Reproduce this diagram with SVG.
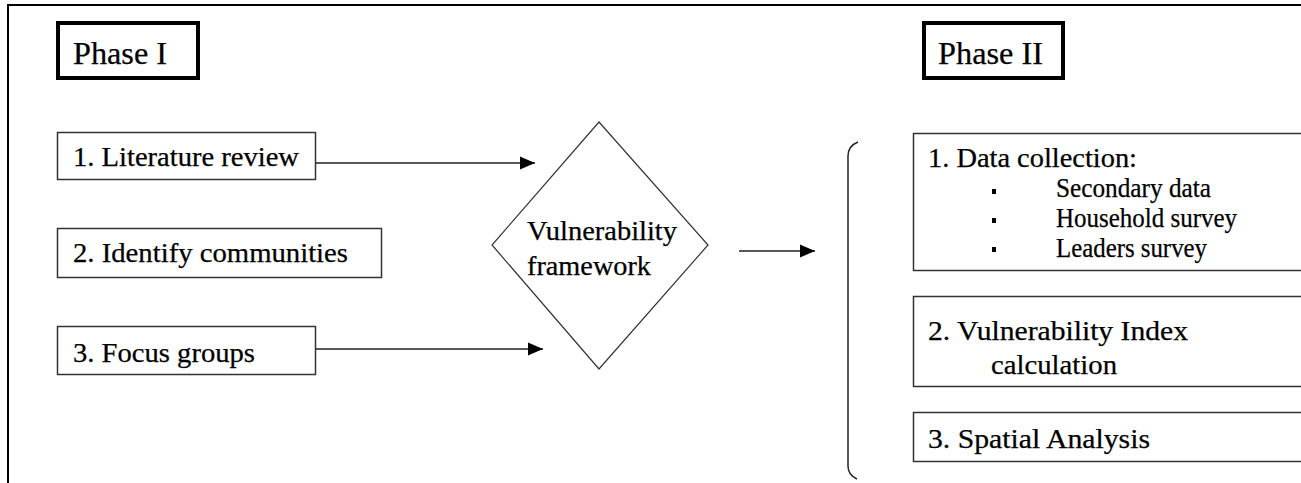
<svg xmlns="http://www.w3.org/2000/svg" width="1301" height="483" viewBox="0 0 1301 483">
<style>
  text { font-family: "Liberation Serif", "Times New Roman", "DejaVu Serif", serif; fill: #000; stroke: #000; stroke-width: 0.25; }
  .t { font-size: 27px; }
  .ph { font-size: 32px; }
  .box { fill: #fff; stroke: #333; stroke-width: 1.5; }
  .pbox { fill: #fff; stroke: #000; stroke-width: 4; }
  .conn { stroke: #222; stroke-width: 1.5; fill: none; }
</style>
<defs>
  <marker id="ah" markerWidth="16" markerHeight="14" refX="15" refY="7" orient="auto" markerUnits="userSpaceOnUse">
    <path d="M0,0.5 L15,7 L0,13.5 Z" fill="#000"/>
  </marker>
</defs>
<rect width="1301" height="483" fill="#fff"/>
<rect x="8" y="5" width="1400" height="600" fill="none" stroke="#000" stroke-width="2"/>

<g id="phase1">
  <rect class="pbox" x="58" y="23" width="140" height="55"/>
  <text class="ph" x="73" y="64" textLength="94" lengthAdjust="spacingAndGlyphs">Phase I</text>
</g>
<g id="phase2">
  <rect class="pbox" x="924" y="23" width="139" height="55"/>
  <text class="ph" x="938" y="64" textLength="105" lengthAdjust="spacingAndGlyphs">Phase II</text>
</g>

<g id="lit-review">
  <rect class="box" x="57.5" y="132.5" width="258" height="47"/>
  <text class="t" x="73" y="166" textLength="226" lengthAdjust="spacingAndGlyphs">1. Literature review</text>
</g>
<g id="identify">
  <rect class="box" x="57.5" y="228.5" width="324" height="49"/>
  <text class="t" x="73" y="262" textLength="275" lengthAdjust="spacingAndGlyphs">2. Identify communities</text>
</g>
<g id="focus">
  <rect class="box" x="57.5" y="326.5" width="258" height="48"/>
  <text class="t" x="73" y="362" textLength="182" lengthAdjust="spacingAndGlyphs">3. Focus groups</text>
</g>

<g id="framework">
  <polygon points="599,122 708,245 599,369 492,245" fill="#fff" stroke="#333" stroke-width="1.2"/>
  <text class="t" x="527" y="240" textLength="150" lengthAdjust="spacingAndGlyphs">Vulnerability</text>
  <text class="t" x="527" y="275" textLength="124" lengthAdjust="spacingAndGlyphs">framework</text>
</g>

<g id="data-collection">
  <rect class="box" x="913.5" y="133.5" width="390" height="137"/>
  <text class="t" x="928" y="167" textLength="209" lengthAdjust="spacingAndGlyphs">1. Data collection:</text>
  <rect x="992" y="189" width="4" height="5" fill="#000"/>
  <rect x="992" y="218" width="4" height="5" fill="#000"/>
  <rect x="992" y="247" width="4" height="5" fill="#000"/>
  <text class="t" x="1056" y="197" textLength="155" lengthAdjust="spacingAndGlyphs">Secondary data</text>
  <text class="t" x="1056" y="227" textLength="181" lengthAdjust="spacingAndGlyphs">Household survey</text>
  <text class="t" x="1056" y="257" textLength="151" lengthAdjust="spacingAndGlyphs">Leaders survey</text>
</g>
<g id="vuln-index">
  <rect class="box" x="913.5" y="296.5" width="390" height="90"/>
  <text class="t" x="928" y="340" textLength="260" lengthAdjust="spacingAndGlyphs">2.  Vulnerability Index</text>
  <text class="t" x="991" y="374" textLength="126" lengthAdjust="spacingAndGlyphs">calculation</text>
</g>
<g id="spatial">
  <rect class="box" x="913.5" y="412.5" width="390" height="49"/>
  <text class="t" x="928" y="448" textLength="222" lengthAdjust="spacingAndGlyphs">3.  Spatial Analysis</text>
</g>

<g id="connectors">
  <line class="conn" x1="316" y1="163" x2="535" y2="163" marker-end="url(#ah)"/>
  <line class="conn" x1="316" y1="349" x2="543" y2="349" marker-end="url(#ah)"/>
  <line class="conn" x1="739" y1="251" x2="815" y2="251" marker-end="url(#ah)"/>
  <path class="conn" d="M858,142 Q848,146 848,156 L848,466 Q848,475 857,479"/>
</g>
</svg>
